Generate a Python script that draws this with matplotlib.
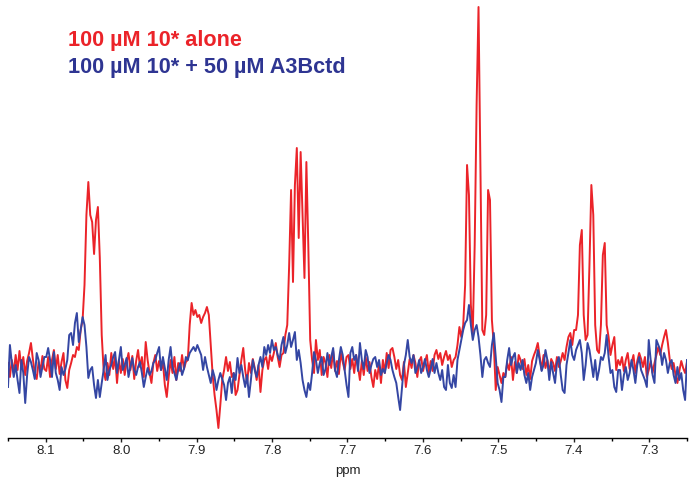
import numpy as np
from matplotlib import pyplot as plt
from matplotlib.ticker import MultipleLocator, FormatStrFormatter

#spectrum window (ppm), points spaced evenly from left to right
ppm_left = 8.15
ppm_right = 7.25
n_points = 356

#intensity (arbitrary units, baseline = 0)
alone = (
    [2, -12, 5, -8, 10, -5, 14, -3, 8, -10, 4, 12, 22, 6, -8, -14, 3, -6, 9, -4]
    + [-6, 8, -12, 5, 15, -4, 10, -9, 3, 12, -15, -23, -5, 2, 10, 8, 18, 15, 35, 45]
    + [80, 150, 183, 150, 143, 111, 145, 158, 107, 30, -5, -15, 2, -10, 12, -4, 8, -18, 5, -8]
    + [6, -10, 3, 12, -5, 9, -14, 4, 15, -2, 8, -12, 23, 5, -8, -18, 2, 10, -6, 4]
    + [-5, 3, -20, -32, -12, 5, -8, 8, -15, 2, -6, 10, -4, 3, 5, 40, 62, 50, 55, 48]
    + [50, 42, 48, 52, 58, 50, 20, -10, -30, -45, -63, -40, -15, -5, 8, -6, 3, -12, -8, -30]
    + [-25, -10, 5, 17, -5, -18, 2, -8, 6, -3, -15, 0, -27, -5, 5, 8, -4, 10, 4, 12]
    + [22, 8, -2, 10, 12, 30, 40, 100, 175, 83, 180, 217, 127, 213, 150, 87, 203, 120, 25, 5]
    + [-8, 25, 5, 15, -10, 8, 2, -12, 10, -3, 14, -6, 4, -9, 12, 3, -5, 8, 10, -4]
    + [6, -8, 10, -2, -15, 4, -10, 8, -6, 3, -12, -22, -5, -14, 2, -18, 5, -8, 12, -3]
    + [15, 17, 8, -4, 5, -10, -15, 3, -22, -8, 6, -3, 10, 2, -12, 4, 8, -6, 3, 10]
    + [-8, 4, -6, 10, 15, 6, 12, 0, 8, 14, 5, 10, -2, 5, 8, 20, 38, 28, 40, 80]
    + [200, 170, 60, 32, 120, 260, 358, 200, 35, 30, 50, 175, 165, 45, 20, -25, -2, -10, -18, -8]
    + [-12, 2, -5, 8, -15, 3, -8, 10, 5, -4, 6, -10, 0, -14, 4, 10, 15, 22, 8, -5]
    + [10, -3, 5, -8, 6, 2, -6, 8, -2, 4, 12, 5, 18, 28, 32, 20, 35, 35, 50, 120]
    + [135, 50, 25, 30, 100, 180, 150, 40, 15, 12, 40, 110, 122, 40, 28, 10, 20, 28, -5, 5]
    + [0, 8, -6, 5, 12, -4, 2, 10, -8, 4, 12, 6, -2, 8, -12, -5, 4, -8, 2, 10]
    + [18, 10, 20, 28, 35, 22, 5, -4, 2, -10, -18, -6, 4, -3, -8, 3]
)

with_a3b = (
    [-22, 20, 2, -12, 0, -15, -28, 5, -8, -38, -10, 8, 3, -5, -14, 12, 5, -12, -2, 8]
    + [8, 17, 5, -12, 13, -8, -15, -25, -2, -10, -4, 5, 30, 32, 20, 42, 52, 23, 35, 48]
    + [40, 18, -13, -5, -2, -20, -33, -15, -32, -18, -5, 10, -15, -5, 0, 8, 13, -8, 5, 18]
    + [-5, 0, 7, -12, -2, 7, -5, -10, -2, 3, -8, -22, -12, -3, -10, -6, 2, 5, 12, 18]
    + [-5, 8, -3, -15, 5, 18, -2, -8, -15, -5, 2, -10, -4, 8, 5, 12, 15, 18, 14, 20]
    + [15, 10, -5, 8, -2, -10, -18, -5, -12, -25, -15, -8, -14, -20, -35, -18, -12, -28, -8, -15]
    + [7, -8, 0, -12, -22, -10, -32, -15, 5, -5, -12, 0, 8, -2, 18, 10, 20, 12, 25, 15]
    + [18, 10, 5, 20, 28, 12, 20, 32, 18, 25, 33, 5, 15, 2, -15, -25, -32, -18, -25, -8]
    + [13, 5, -8, 2, 8, -10, -4, 12, 0, 8, 17, -5, -12, 5, 18, 10, -5, -20, -32, 12]
    + [18, 5, 10, -6, 22, 5, -4, 15, 8, -8, 0, 6, 8, -2, 5, -10, -4, -8, 2, 10]
    + [5, -5, -12, -18, -32, -45, -22, 0, 10, 25, 8, 2, 10, -8, -3, 5, -8, -2, 6, -5]
    + [-12, -4, 6, -8, 2, -8, -15, -5, -22, -25, 0, -18, -23, -10, -22, 5, 15, 25, 35, 42]
    + [45, 60, 40, 25, 35, 40, 28, 10, -12, 5, 8, 2, -2, 20, 32, 8, -18, -25, -37, -12]
    + [-12, 5, 17, 0, 8, 12, -8, 2, -5, 5, -10, -18, -8, -25, -12, -5, 2, 15, 5, -6]
    + [0, 15, 5, -15, 3, -8, -18, 2, 8, -10, -25, -28, 0, 12, 25, 10, 5, 15, 20, 25]
    + [12, -15, 0, 22, 15, 2, -12, 5, -15, -5, 8, 5, 12, 30, 8, -8, -5, -22, -27, -5]
    + [-5, -25, -10, -2, -15, -8, 5, -5, -18, 0, 8, -5, -10, -15, -22, 25, 5, -10, -18, 25]
    + [20, 15, 0, 12, 5, -8, 2, 5, -10, -18, -2, -15, -8, -25, -35, 5]
)

labels = ["100 \u00b5M 10* alone", "100 \u00b5M 10* + 50 \u00b5M A3Bctd"]
red = "#eb2329"
blue_line = "#3446a3"
blue_text = "#2e3592"

plt.rcParams['font.family'] = ['Liberation Sans', 'DejaVu Sans']

ppm = np.linspace(ppm_left, ppm_right, n_points)

fig = plt.figure(figsize=(7, 4.91), dpi=100)
ax = fig.add_axes([8 / 700, (491 - 437.7) / 491, 679 / 700, 437.7 / 491])

ax.plot(ppm, alone, color=red, lw=1.4)
ax.plot(ppm, with_a3b, color=blue_line, lw=1.4)

ax.set_xlim(ppm_left, ppm_right)
ax.set_ylim(-72.7, 365)

#only the bottom axis, like a spectrum plot
for side in ["left", "right", "top"]:
    ax.spines[side].set_visible(False)
ax.spines["bottom"].set_linewidth(1.0)
ax.set_yticks([])
ax.xaxis.set_major_locator(MultipleLocator(0.1))
ax.xaxis.set_minor_locator(MultipleLocator(0.05))
ax.xaxis.set_major_formatter(FormatStrFormatter('%.1f'))
ax.tick_params(axis='x', which='major', length=3, width=1, pad=2, labelsize=9.5, colors='#222222')
ax.tick_params(axis='x', which='minor', length=2, width=1)
ax.set_xlabel("ppm", fontsize=9.5, labelpad=6, color='#222222')
ax.patch.set_alpha(0)

#legend as coloured text
fig.text(68 / 700, (491 - 46) / 491, labels[0], color=red, fontsize=15.6, fontweight='bold', va='baseline')
fig.text(68 / 700, (491 - 73) / 491, labels[1], color=blue_text, fontsize=15.6, fontweight='bold', va='baseline')

fig.savefig("out.png", dpi=100)
